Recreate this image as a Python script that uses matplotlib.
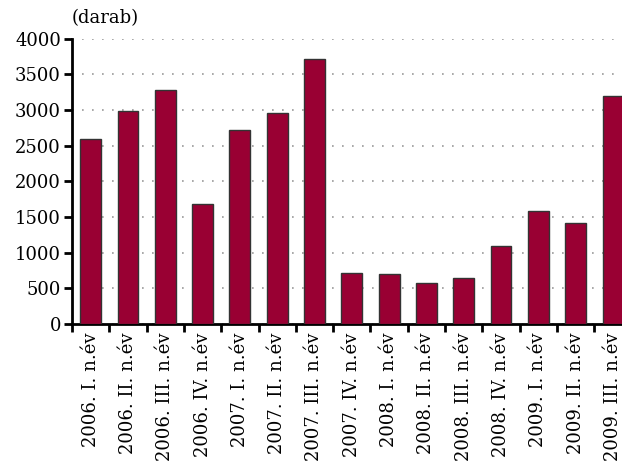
import numpy as np
import matplotlib
matplotlib.use("Agg")
import matplotlib.pyplot as plt

# negyedéves darabszámok
periods = ["2006. I. n.év", "2006. II. n.év", "2006. III. n.év", "2006. IV. n.év",
           "2007. I. n.év", "2007. II. n.év", "2007. III. n.év", "2007. IV. n.év",
           "2008. I. n.év", "2008. II. n.év", "2008. III. n.év", "2008. IV. n.év",
           "2009. I. n.év", "2009. II. n.év", "2009. III. n.év"]
counts = [2600, 2980, 3280, 1680, 2720, 2960, 3720, 720,
          700, 580, 640, 1090, 1580, 1420, 3200]
yticks = [0, 500, 1000, 1500, 2000, 2500, 3000, 3500, 4000]

plt.rcParams["font.family"] = ["DejaVu Serif"]

fig = plt.figure(figsize=(6.22, 4.66), dpi=100)
ax = fig.add_axes([72 / 622, 142 / 466, 559.6 / 622, 285.3 / 466])

x = np.arange(len(counts))
ax.bar(x, counts, width=0.56, color="#990033", edgecolor="#333333",
       linewidth=1.0, zorder=3)

ax.set_xlim(-0.5, len(counts) - 0.5)
ax.set_ylim(0, 4000)
ax.set_yticks(yticks)
ax.set_yticklabels([str(v) for v in yticks], fontsize=13)
ax.yaxis.grid(True, linestyle=(0, (1, 5)), color="#999999", linewidth=1.2, zorder=0)
ax.set_axisbelow(True)

# tick marks at category boundaries, labels at centres
ax.set_xticks(np.arange(len(counts) + 1) - 0.5)
ax.set_xticklabels([])
ax.set_xticks(x, minor=True)
ax.set_xticklabels(periods, minor=True, rotation=90, fontsize=13, va="top")
ax.tick_params(axis="x", which="minor", length=0, pad=6)
ax.tick_params(axis="x", which="major", length=6, width=2, direction="out")
ax.tick_params(axis="y", length=6, width=2, pad=2)

for s in ["top", "right"]:
    ax.spines[s].set_visible(False)
for s in ["left", "bottom"]:
    ax.spines[s].set_linewidth(2)
    ax.spines[s].set_color("black")

ax.text(0, 1.04, "(darab)", transform=ax.transAxes, ha="left", va="bottom", fontsize=13)

fig.savefig("out.png", dpi=100)
